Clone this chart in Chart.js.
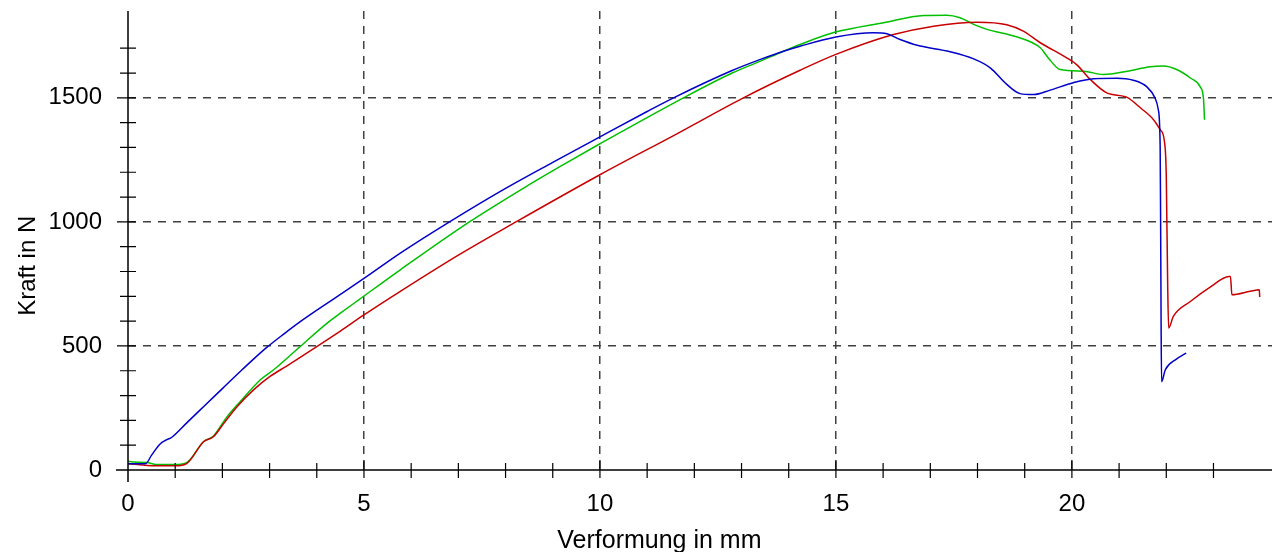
<!DOCTYPE html>
<html>
<head>
<meta charset="utf-8">
<script src="https://cdn.jsdelivr.net/npm/chart.js@4"></script>
<style>
    html, body { margin: 0; padding: 0; background: #fff; }
    #wrap { width: 1274px; height: 552px; }
</style>
</head>
<body>
<div id="wrap"><canvas id="forceChart"></canvas></div>
<script>
const blueX = [0, 0.37, 0.5, 0.68, 0.8, 0.93, 1.25, 1.6, 2.0, 2.4, 2.66, 2.94, 3.3, 3.65, 4.36, 5.0, 5.77, 6.83, 8.0, 9.0, 10.0, 11.0, 11.56, 12.8, 13.4, 13.89, 14.24, 15.0, 15.8, 16.08, 16.36, 16.72, 17.42, 17.92, 18.27, 18.62, 18.9, 19.19, 19.54, 20.03, 20.46, 20.95, 21.3, 21.59, 21.76, 21.83, 21.87, 21.88, 21.89, 21.9, 21.98, 22.2, 22.42];
const blueY = [25, 25, 60, 105, 120, 132, 191, 255, 328, 401, 447, 494, 548, 598, 690, 772, 874, 1002, 1135, 1240, 1343, 1445, 1500, 1610, 1655, 1688, 1708, 1745, 1762, 1758, 1735, 1712, 1686, 1657, 1621, 1554, 1517, 1513, 1531, 1561, 1577, 1579, 1571, 1544, 1500, 1453, 1305, 1000, 600, 356, 404, 445, 471];

const redX = [0, 0.2, 0.5, 1.0, 1.25, 1.6, 1.81, 2.03, 2.31, 2.66, 3.01, 3.37, 4.0, 4.5, 5.0, 5.77, 7.0, 8.24, 10.0, 11.63, 13.04, 14.24, 15.0, 16.22, 17.07, 17.99, 18.62, 18.97, 19.33, 19.89, 20.1, 20.39, 20.74, 21.17, 21.45, 21.73, 21.87, 21.96, 22.0, 22.03, 22.05, 22.15, 22.51, 22.93, 23.33, 23.36, 23.39, 23.78, 23.97, 23.98];
const redY = [25, 22, 17, 17, 27, 114, 134, 188, 255, 323, 377, 420, 497, 560, 625, 720, 866, 1002, 1190, 1355, 1500, 1611, 1675, 1755, 1789, 1805, 1795, 1769, 1722, 1661, 1634, 1574, 1520, 1502, 1460, 1412, 1372, 1325, 1184, 740, 572, 619, 679, 737, 780, 780, 706, 720, 726, 697];

const greenX = [0, 0.1, 0.4, 0.6, 1.0, 1.25, 1.6, 1.81, 2.1, 2.38, 2.8, 3.08, 3.65, 4.22, 4.5, 4.89, 5.77, 7.25, 8.5, 9.16, 10.01, 11.77, 12.8, 13.4, 13.89, 14.24, 14.99, 16.01, 16.86, 17.35, 17.63, 17.92, 18.2, 18.83, 19.33, 19.5, 19.75, 20.25, 20.67, 21.17, 21.66, 21.94, 22.22, 22.51, 22.72, 22.79, 22.81];
const greenY = [35, 32, 30, 22, 22, 31, 114, 137, 215, 276, 363, 403, 498, 592, 632, 686, 807, 1002, 1150, 1224, 1316, 1500, 1600, 1648, 1688, 1715, 1765, 1803, 1832, 1833, 1823, 1796, 1776, 1746, 1702, 1661, 1614, 1607, 1594, 1607, 1625, 1628, 1614, 1580, 1544, 1493, 1412];

const xTickLabels = [0, 5, 10, 15, 20];
const yTickLabels = [0, 500, 1000, 1500];

const FONT = 'Liberation Sans, Arial, sans-serif';

function toPoints(xs, ys) {
    return xs.map((x, i) => ({ x: x, y: ys[i] }));
}

// feste Achsenmaße, ohne Randabstand für Beschriftungen
function fixBox(size) {
    return s => {
        if (s.isHorizontal()) {
            s.height = size;
        } else {
            s.width = size;
        }
        s.paddingLeft = 0;
        s.paddingRight = 0;
        s.paddingTop = 0;
        s.paddingBottom = 0;
    };
}

// Achsenlinien, Teilstriche und Achsentitel
const axesPlugin = {
    id: 'axes',
    afterDraw(chart) {
        const { ctx, scales: { x, y } } = chart;
        const x0 = x.getPixelForValue(0);
        const y0 = y.getPixelForValue(0);

        ctx.save();
        ctx.strokeStyle = '#000';
        ctx.lineWidth = 1.5;
        ctx.beginPath();
        ctx.moveTo(x0 - 12, y0);
        ctx.lineTo(x.right, y0);
        ctx.moveTo(x0, y.top);
        ctx.lineTo(x0, y0 + 12);
        ctx.stroke();

        ctx.lineWidth = 1.2;
        ctx.beginPath();
        x.ticks.forEach(t => {
            if (!Number.isInteger(t.value) || t.value === 0) return;
            const px = x.getPixelForValue(t.value);
            const major = t.value % 5 === 0;
            ctx.moveTo(px, y0 - (major ? 10 : 7));
            ctx.lineTo(px, y0 + 8);
        });
        y.ticks.forEach(t => {
            if (t.value % 100 !== 0 || t.value === 0) return;
            const py = y.getPixelForValue(t.value);
            const major = t.value % 500 === 0;
            ctx.moveTo(x0 - (major ? 11 : 8), py);
            ctx.lineTo(x0 + 8, py);
        });
        ctx.stroke();

        ctx.fillStyle = '#000';
        ctx.textAlign = 'center';
        ctx.textBaseline = 'middle';
        ctx.font = '25px ' + FONT;
        ctx.fillText('Verformung in mm', x.left + (x.right - x.left) * 0.4645, 541);

        ctx.font = '24px ' + FONT;
        ctx.translate(28, y.top + (y.bottom - y.top) * 0.555);
        ctx.rotate(-Math.PI / 2);
        ctx.fillText('Kraft in N', 0, 0);
        ctx.restore();
    }
};

function createForceChart() {
    const ctx = document.getElementById('forceChart').getContext('2d');
    return new Chart(ctx, {
        type: 'line',
        data: {
            datasets: [
                { label: 'Probe 1', data: toPoints(blueX, blueY), borderColor: '#0000c8' },
                { label: 'Probe 2', data: toPoints(redX, redY), borderColor: '#c80000' },
                { label: 'Probe 3', data: toPoints(greenX, greenY), borderColor: '#00c000' }
            ]
        },
        options: {
            responsive: true,
            maintainAspectRatio: false,
            animation: false,
            parsing: false,
            layout: {
                padding: { top: 11, right: 2, left: 0, bottom: 0 }
            },
            elements: {
                line: { borderWidth: 1.5, cubicInterpolationMode: 'monotone' },
                point: { radius: 0 }
            },
            plugins: {
                legend: { display: false },
                tooltip: { enabled: false }
            },
            scales: {
                x: {
                    type: 'linear',
                    min: 0,
                    max: 24.24,
                    afterFit: fixBox(82),
                    ticks: {
                        stepSize: 1,
                        autoSkip: false,
                        maxRotation: 0,
                        padding: 20,
                        color: '#000',
                        font: { family: FONT, size: 24 },
                        callback: v => xTickLabels.includes(v) ? String(v) : ''
                    },
                    grid: {
                        drawTicks: false,
                        lineWidth: 1.5,
                        color: c => (c.tick && c.tick.value % 5 === 0 && c.tick.value !== 0) ? '#404040' : 'rgba(0,0,0,0)'
                    },
                    border: { display: false, dash: [8, 7] }
                },
                y: {
                    type: 'linear',
                    min: 0,
                    max: 1850,
                    afterFit: fixBox(128),
                    ticks: {
                        stepSize: 100,
                        autoSkip: false,
                        padding: 26,
                        color: '#000',
                        font: { family: FONT, size: 24 },
                        callback: v => yTickLabels.includes(v) ? String(v) : ''
                    },
                    grid: {
                        drawTicks: false,
                        lineWidth: 1.5,
                        color: c => (c.tick && c.tick.value % 500 === 0 && c.tick.value !== 0) ? '#404040' : 'rgba(0,0,0,0)'
                    },
                    border: { display: false, dash: [8, 7] }
                }
            }
        },
        plugins: [axesPlugin]
    });
}

createForceChart();
</script>
</body>
</html>
